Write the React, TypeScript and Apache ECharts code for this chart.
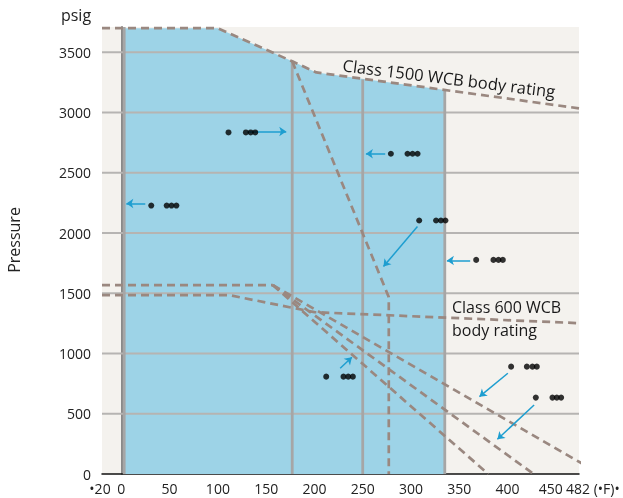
import React, { useEffect, useRef } from 'react';
import * as echarts from 'echarts';

// Axis ticks (the axis ends at the "482" mark, drawn at its right end)
const xTickValues = [-20, 0, 50, 100, 150, 200, 250, 300, 350, 400, 450];
const xTickLabels = ['•20', '0', '50', '100', '150', '200', '250', '300', '350', '400', '450'];
const xEndLabel = '482';
const xUnitLabel = '(•F)•';
const yTickValues = [0, 500, 1000, 1500, 2000, 2500, 3000, 3500];

// Rating curves (°F, psig)
const class1500Rating = [[-20, 3700], [100, 3700], [177, 3425], [202, 3333], [474, 3035]];
const class1500Branch = [[177, 3425], [277, 1468], [277, 0]];
const class600Upper = [[-20, 1567], [157, 1567]];
const fanLineA = [[157, 1567], [496, 0]];
const fanLineB = [[157, 1567], [427, 0]];
const fanLineC = [[157, 1567], [380, 0]];
const class600Rating = [[-20, 1484], [112, 1484], [200, 1343], [474, 1252]];

// Shaded operating region
const shadedRegion = [[3, 3700], [100, 3700], [177, 3425], [202, 3333], [335, 3187]];

// Vertical dividers
const dividerX = [3, 177, 250, 335];
const dividerTop = [3710, 3425, 3275, 3187];

// Callout dots
const calloutDots = [
  [31, 2228], [47, 2228], [52, 2228], [57, 2228],
  [111, 2835], [129, 2835], [134, 2835], [138.7, 2835],
  [279.2, 2658], [296.4, 2658], [301.6, 2658], [306.8, 2658],
  [308.5, 2104], [326, 2104], [331, 2104], [335.7, 2104],
  [367.5, 1777], [385.4, 1777], [390.6, 1777], [395.1, 1777],
  [403.7, 891], [420, 891], [425.8, 891], [430.3, 891],
  [429.3, 634], [446.5, 634], [451, 634], [455.5, 634],
  [212.2, 808], [230.1, 808], [235, 808], [239.8, 808],
];

// Callout arrows [from, to]
const calloutArrows = [
  [[24.8, 2245], [5.2, 2245]],
  [[130.4, 2843], [170.8, 2843]],
  [[273.3, 2658], [253.3, 2658]],
  [[306.7, 2054], [271.5, 1722]],
  [[361.3, 1772], [337.2, 1772]],
  [[400.3, 836], [370.9, 642]],
  [[427.5, 573], [389.5, 288]],
  [[226.7, 878], [238.8, 969]],
];

const FONT = '"Open Sans", "Noto Sans", sans-serif';
const DASH_COLOR = '#9a8880';
const BLUE = '#9dd3e7';

function dashed(data: number[][], clip = true) {
  return {
    type: 'line',
    data,
    symbol: 'none',
    clip,
    silent: true,
    z: 4,
    lineStyle: { color: DASH_COLOR, width: 2.7, type: [8, 5] },
  };
}

export default function App() {
  const ref = useRef<HTMLDivElement>(null);
  useEffect(() => {
    const chart = echarts.init(ref.current!, null, { renderer: 'svg' });
    const series: any[] = [];
    series.push({
      type: 'line',
      data: shadedRegion,
      symbol: 'none',
      silent: true,
      z: 1,
      lineStyle: { width: 0 },
      areaStyle: { color: BLUE, opacity: 1 },
    });
    yTickValues.filter((v) => v > 0).forEach((v) => {
      series.push({
        type: 'line',
        data: [[-20, v], [474, v]],
        symbol: 'none',
        silent: true,
        z: 2,
        lineStyle: { color: '#b6b4b2', width: 2 },
      });
    });
    dividerX.forEach((x, i) => {
      series.push({
        type: 'line',
        data: [[x, 0], [x, dividerTop[i]]],
        symbol: 'none',
        silent: true,
        z: 3,
        lineStyle: { color: '#a6a6a6', width: 2.8 },
      });
    });
    series.push(dashed(class1500Rating));
    series.push(dashed(class1500Branch));
    series.push(dashed(class600Upper));
    series.push(dashed(fanLineA, false));
    series.push(dashed(fanLineB, false));
    series.push(dashed(fanLineC, false));
    series.push(dashed(class600Rating));
    series.push({
      type: 'lines',
      coordinateSystem: 'cartesian2d',
      silent: true,
      z: 6,
      symbol: ['none', 'arrow'],
      symbolSize: 7,
      lineStyle: { color: '#1e9ed0', width: 1.5, opacity: 1 },
      data: calloutArrows.map((c) => ({ coords: c })),
    });
    series.push({
      type: 'scatter',
      data: calloutDots,
      symbol: 'circle',
      symbolSize: 6,
      silent: true,
      z: 7,
      itemStyle: { color: '#000' },
    });

    const lastIdx = xTickValues.length - 1;
    chart.setOption({
      animation: false,
      textStyle: { fontFamily: FONT },
      grid: {
        left: 102,
        right: 44,
        top: 27,
        bottom: 24,
        show: true,
        backgroundColor: '#f4f2ee',
        borderWidth: 0,
      },
      xAxis: {
        type: 'value',
        min: -20,
        max: 474,
        splitLine: { show: false },
        axisTick: { show: false },
        axisLine: { show: true, onZero: false, lineStyle: { color: '#111', width: 1.5 } },
        axisLabel: {
          customValues: xTickValues,
          showMinLabel: true,
          showMaxLabel: true,
          hideOverlap: false,
          margin: 7,
          lineHeight: 14,
          color: '#222',
          fontSize: 14,
          fontFamily: FONT,
          formatter: (v: number) => {
            const i = xTickValues.indexOf(v);
            const t = i >= 0 ? xTickLabels[i] : '';
            if (i === 0) return '{l|' + t + '}';
            if (i === lastIdx) return '{r|' + t + '}';
            return t;
          },
          rich: {
            l: { padding: [0, 4, 0, 0], fontSize: 14, lineHeight: 14, fontFamily: FONT, color: '#222' },
            r: { padding: [0, 10, 0, 0], fontSize: 14, lineHeight: 14, fontFamily: FONT, color: '#222' },
          },
        },
      },
      yAxis: {
        type: 'value',
        min: 0,
        max: 3710,
        splitLine: { show: false },
        axisTick: { show: false },
        axisLine: { show: true, lineStyle: { color: '#8a8a8a', width: 2 } },
        axisLabel: {
          customValues: yTickValues,
          showMinLabel: true,
          hideOverlap: false,
          margin: 11,
          lineHeight: 13,
          color: '#222',
          fontSize: 14,
          fontFamily: FONT,
          formatter: (v: number) => String(v),
        },
      },
      graphic: [
        {
          type: 'text',
          x: 76,
          y: 15,
          style: { text: 'psig', fontSize: 16, fontFamily: FONT, fill: '#222', textAlign: 'center', textVerticalAlign: 'middle' },
        },
        {
          type: 'text',
          x: 14,
          y: 240,
          rotation: Math.PI / 2,
          style: { text: 'Pressure', fontSize: 16, fontFamily: FONT, fill: '#222', textAlign: 'center', textVerticalAlign: 'middle' },
        },
        {
          type: 'text',
          x: 566,
          y: 488,
          style: { text: xEndLabel + ' ' + xUnitLabel, fontSize: 14, fontFamily: FONT, fill: '#222', textAlign: 'left', textVerticalAlign: 'middle' },
        },
        {
          type: 'text',
          x: 449,
          y: 78,
          rotation: -0.123,
          style: { text: 'Class 1500 WCB body rating', fontSize: 16.5, fontFamily: FONT, fill: '#1a1a1a', textAlign: 'center', textVerticalAlign: 'middle' },
        },
        {
          type: 'text',
          x: 452,
          y: 307,
          style: { text: 'Class 600 WCB', fontSize: 16, fontFamily: FONT, fill: '#1a1a1a', textAlign: 'left', textVerticalAlign: 'middle' },
        },
        {
          type: 'text',
          x: 452,
          y: 330,
          style: { text: 'body rating', fontSize: 16, fontFamily: FONT, fill: '#1a1a1a', textAlign: 'left', textVerticalAlign: 'middle' },
        },
      ],
      series,
    });
    return () => chart.dispose();
  }, []);
  return <div ref={ref} style={{ position: 'fixed', left: 0, top: 0, width: 623, height: 498 }} />;
}
